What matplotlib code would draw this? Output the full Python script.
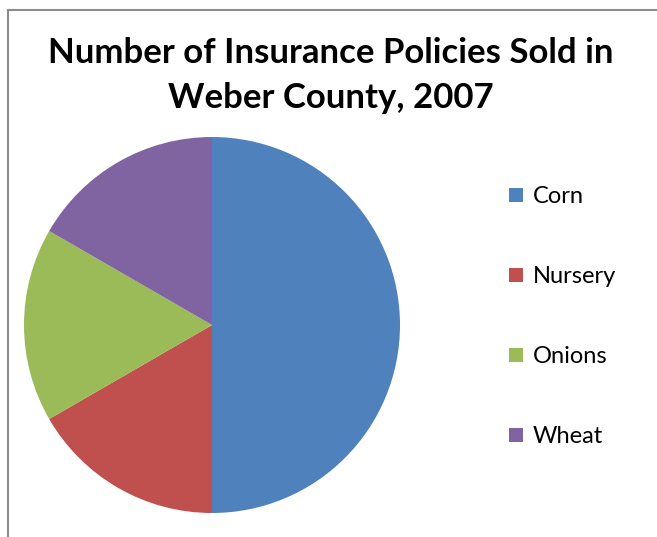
import matplotlib
matplotlib.use("Agg")
import matplotlib.pyplot as plt
from matplotlib.lines import Line2D
from matplotlib.patches import Patch

# data (corn is half, the rest split evenly)
crops = ["Corn", "Nursery", "Onions", "Wheat"]
policies = [3, 1, 1, 1]
colors = ["#4F81BD", "#C0504D", "#9BBB59", "#8064A2"]

plt.rcParams['font.family'] = ['Lato', 'DejaVu Sans']

fig = plt.figure(figsize=(6.57, 5.37), dpi=100)
W, H = 657, 537

# pie: center (212, 325), radius 188 in pixels
ax = fig.add_axes([(212 - 188) / W, (H - 513) / H, 376 / W, 376 / H])
ax.pie(policies, colors=colors, startangle=90, counterclock=False,
       wedgeprops=dict(linewidth=0))
ax.set_aspect('auto')
ax.set_xlim(-1, 1)
ax.set_ylim(-1, 1)
ax.axis('off')

fig.text(331 / W, 1 - 53 / H, "Number of Insurance Policies Sold in",
         ha='center', va='center', fontsize=25, fontweight='bold')
fig.text(331 / W, 1 - 98 / H, "Weber County, 2007",
         ha='center', va='center', fontsize=25, fontweight='bold')

handles = [Patch(facecolor=c, edgecolor='none') for c in colors]
fig.legend(handles, crops, loc='upper left', bbox_to_anchor=(488 / W, 1 - 165 / H),
           frameon=False, fontsize=17, labelspacing=2.5,
           handlelength=0.58, handleheight=0.58, handletextpad=0.4)

# thin gray frame on the left and top
fig.add_artist(Line2D([8 / W, 8 / W], [0, 1 - 10 / H], transform=fig.transFigure,
                      color='#8c8c8c', lw=1.5))
fig.add_artist(Line2D([8 / W, 1], [1 - 10 / H, 1 - 10 / H], transform=fig.transFigure,
                      color='#8c8c8c', lw=1.5))

fig.savefig("out.png", dpi=100)
